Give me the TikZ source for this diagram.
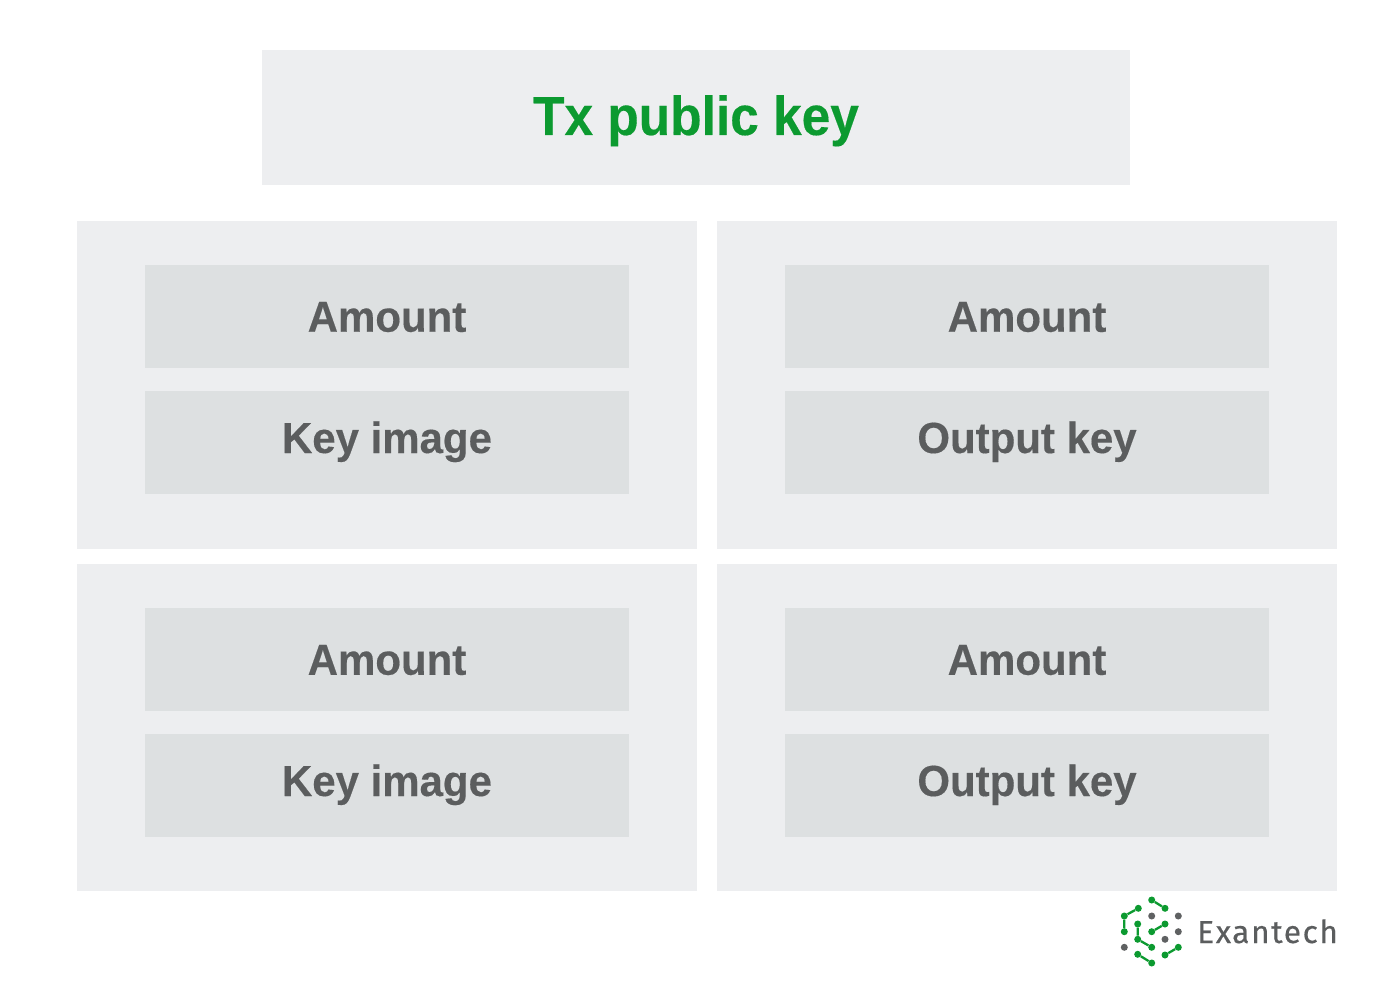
\documentclass[tikz,border=0pt]{standalone}
\usepackage{fontspec}
\setmainfont{Liberation Sans}
\newfontfamily\titlefont[FakeStretch=0.935,FakeBold=0.3]{Liberation Sans Bold}
\newfontfamily\fieldfont[FakeStretch=0.965,FakeBold=0.3]{Liberation Sans Bold}
\newfontfamily\logofont[LetterSpace=5,FakeBold=0.4]{Fira Sans}
\definecolor{panelgray}{HTML}{EDEEF0}
\definecolor{innergray}{HTML}{DDE0E1}
\definecolor{inktext}{HTML}{5B5D5E}
\definecolor{keygreen}{HTML}{0C9A30}
\definecolor{dotgray}{HTML}{5F6162}
\tikzset{
  x=1pt,y=-1pt,
  panel/.style={fill=panelgray,draw=none,inner sep=0pt,minimum width=620pt,minimum height=327pt},
  titlebox/.style={fill=panelgray,draw=none,inner sep=0pt,minimum width=868pt,minimum height=135pt,
    text=keygreen,font=\titlefont\fontsize{55}{55}\selectfont,text height=35pt,text depth=0pt},
  field/.style={fill=innergray,draw=none,inner sep=0pt,minimum width=484pt,minimum height=103pt,
    text=inktext,font=\fieldfont\fontsize{43.5}{44}\selectfont,text depth=0pt},
  upper/.style={field,text height=30.5pt},
  lower/.style={field,text height=21pt},
  gdot/.style={circle,fill=keygreen,draw=none,inner sep=0pt,minimum size=7pt},
  ydot/.style={circle,fill=dotgray,draw=none,inner sep=0pt,minimum size=7pt},
  glink/.style={draw=keygreen,line width=2.3pt},
  logotext/.style={text=inktext,font=\logofont\fontsize{31.7}{32}\selectfont,inner sep=0pt,anchor=base west}
}
\begin{document}
\begin{tikzpicture}
\useasboundingbox (0,0) rectangle (1400,981);
\node[titlebox] (title) at (696,117.5) {Tx public key};
\node[panel] (p1) at (387,385) {};
\node[panel] (p2) at (1027,385) {};
\node[panel] (p3) at (387,727.5) {};
\node[panel] (p4) at (1027,727.5) {};
\node[upper] (a1) at (387,316.5) {Amount};
\node[lower] (k1) at (387,442.5) {Key image};
\node[upper] (a2) at (1027,316.5) {Amount};
\node[lower] (o2) at (1027,442.5) {Output key};
\node[upper] (a3) at (387,659.5) {Amount};
\node[lower] (k3) at (387,785.5) {Key image};
\node[upper] (a4) at (1027,659.5) {Amount};
\node[lower] (o4) at (1027,785.5) {Output key};
% logo
\foreach \n/\px/\py in {a/1151.7/900,b/1165/908.3,c/1138.3/908.3,d/1124.3/916,e/1124.3/931.7,
  f/1137.7/924,g/1137.7/939.3,h/1151.7/947.3,i/1151.7/931.7,j/1165/924,k/1137.7/954.3,
  l/1151.7/963,m/1165/955,n/1178.3/947.3}{
  \node[gdot] (\n) at (\px,\py) {};
}
\foreach \n/\px/\py in {q/1151.7/916,r/1178.3/916,s/1178.3/931.7,t/1165/939.3,u/1124.3/947.3}{
  \node[ydot] (\n) at (\px,\py) {};
}
\draw[glink] (a)--(b) (c)--(d) (d)--(e) (f)--(g) (g)--(h) (i)--(j) (k)--(l) (m)--(n);
\node[logotext] (brand) at (1197,943) {Exantech};
\end{tikzpicture}
\end{document}
